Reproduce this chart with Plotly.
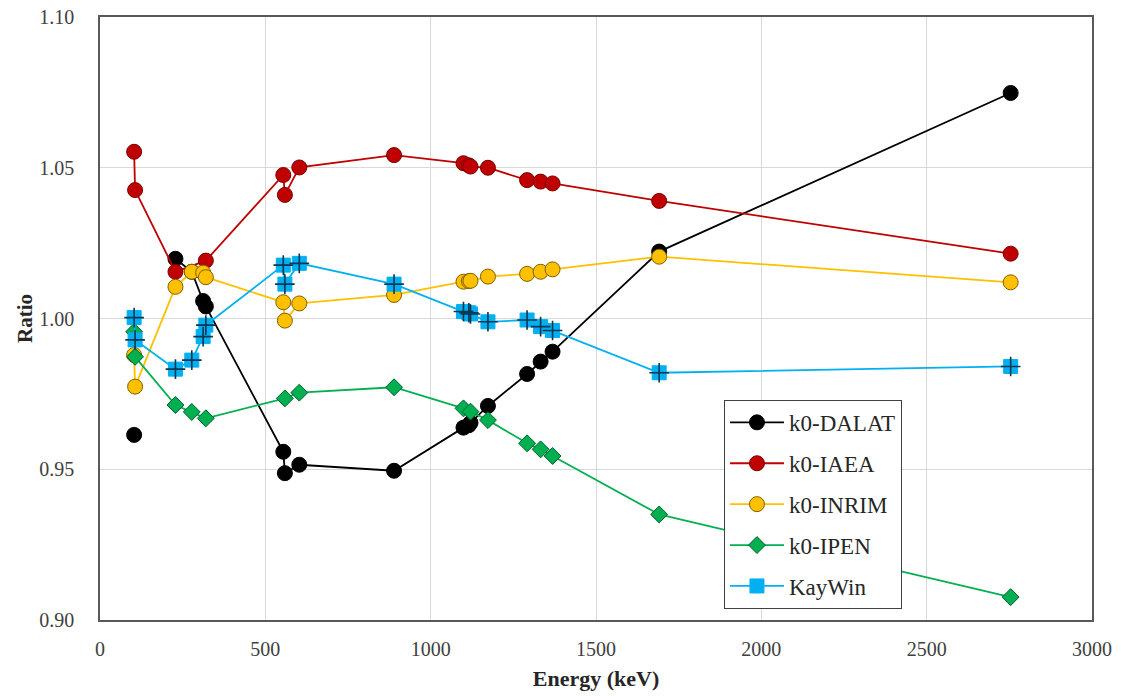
import plotly.graph_objects as go

# Gamma-line energies (keV) and k0 ratios for each library
dalat_keV = [103.2, None, 228.2, 277.6, 311.9, 320.1, 554.3, 559.1, 602.7, 889.3,
             1099.2, 1115.5, 1120.5, 1173.2, 1291.6, 1332.5, 1368.6, 1691.0, 2754.0]
dalat_ratio = [0.9614, None, 1.0198, 1.0155, 1.0058, 1.0040, 0.9558, 0.9487, 0.9515, 0.9495,
               0.9638, 0.9646, 0.9654, 0.9710, 0.9816, 0.9857, 0.9890, 1.0222, 1.0748]

iaea_keV = [103.2, 106.1, 228.2, 320.1, 554.3, 559.1, 602.7, 889.3, 1099.2, 1115.5,
            1120.5, 1173.2, 1291.6, 1332.5, 1368.6, 1691.0, 2754.0]
iaea_ratio = [1.0553, 1.0426, 1.0155, 1.0192, 1.0476, 1.0410, 1.0501, 1.0542, 1.0515, 1.0508,
              1.0504, 1.0500, 1.0459, 1.0454, 1.0448, 1.0390, 1.0215]

inrim_keV = [103.2, 106.1, 228.2, 277.6, 311.9, 320.1, 554.3, 559.1, 602.7, 889.3,
             1099.2, 1115.5, 1120.5, 1173.2, 1291.6, 1332.5, 1368.6, 1691.0, 2754.0]
inrim_ratio = [0.9879, 0.9774, 1.0105, 1.0155, 1.0152, 1.0137, 1.0054, 0.9993, 1.0050, 1.0078,
               1.0122, 1.0124, 1.0125, 1.0139, 1.0148, 1.0155, 1.0163, 1.0205, 1.0120]

ipen_keV = [103.2, 106.1, 228.2, 277.6, 320.1, 559.1, 602.7, 889.3, 1099.2, 1120.5,
            1173.2, 1291.6, 1332.5, 1368.6, 1691.0, 2754.0]
ipen_ratio = [0.9956, 0.9873, 0.9713, 0.9690, 0.9669, 0.9735, 0.9754, 0.9772, 0.9702, 0.9691,
              0.9663, 0.9586, 0.9566, 0.9544, 0.9350, 0.9076]

kaywin_keV = [103.2, 106.1, 228.2, 277.6, 311.9, 320.1, 554.3, 559.1, 602.7, 889.3,
              1099.2, 1115.5, 1120.5, 1173.2, 1291.6, 1332.5, 1368.6, 1691.0, 2754.0]
kaywin_ratio = [1.0003, 0.9929, 0.9832, 0.9862, 0.9940, 0.9978, 1.0177, 1.0114, 1.0183, 1.0114,
                1.0023, 1.0019, 1.0015, 0.9989, 0.9995, 0.9973, 0.9960, 0.9820, 0.9841]

x_ticks = [0, 500, 1000, 1500, 2000, 2500, 3000]
y_ticks = [0.90, 0.95, 1.00, 1.05, 1.10]

SERIF = "Liberation Serif, Times New Roman, serif"

fig = go.Figure()


def add_series(name, xs, ys, color, edge, symbol, size, group):
    fig.add_trace(go.Scatter(
        x=xs, y=ys, name=name, mode="lines+markers", legendgroup=group,
        line=dict(color=color, width=1.8),
        marker=dict(symbol=symbol, size=size, color=color,
                    line=dict(color=edge, width=1)),
        connectgaps=False,
    ))


add_series("k0-DALAT", dalat_keV, dalat_ratio, "#000000", "#000000", "circle", 15, "a")
add_series("k0-IAEA", iaea_keV, iaea_ratio, "#C00000", "#7a0000", "circle", 15, "b")
add_series("k0-INRIM", inrim_keV, inrim_ratio, "#FFC000", "#7f6000", "circle", 15, "c")
add_series("k0-IPEN", ipen_keV, ipen_ratio, "#00B050", "#00602a", "diamond", 13, "d")
add_series("KayWin", kaywin_keV, kaywin_ratio, "#00B0F0", "#00B0F0", "square", 14, "e")
# dark cross drawn over the KayWin squares
fig.add_trace(go.Scatter(
    x=kaywin_keV, y=kaywin_ratio, mode="markers", legendgroup="e", showlegend=False,
    marker=dict(symbol="cross-thin", size=14, line=dict(color="#0b3550", width=1.6)),
    hoverinfo="skip",
))

axis_common = dict(
    showline=True, linecolor="#595959", linewidth=1.5, mirror=True,
    showgrid=True, gridcolor="#d9d9d9", gridwidth=1,
    zeroline=False, ticks="", automargin=False,
    tickfont=dict(family=SERIF, size=20, color="#404040"),
)

fig.update_layout(
    width=1121, height=696,
    margin=dict(l=100, r=29, t=17, b=76),
    paper_bgcolor="white", plot_bgcolor="white",
    xaxis=dict(range=[0, 3000], tickvals=x_ticks, ticktext=[str(v) for v in x_ticks],
               title=dict(text="<b>Energy (keV)</b>", font=dict(family=SERIF, size=22, color="#262626"),
                          standoff=12),
               ticklabelstandoff=10, **axis_common),
    yaxis=dict(range=[0.90, 1.10], tickvals=y_ticks, ticktext=[f"{v:.2f}" for v in y_ticks],
               title=dict(text="<b>Ratio</b>", font=dict(family=SERIF, size=21, color="#262626"),
                          standoff=1),
               ticklabelstandoff=20, **axis_common),
    legend=dict(
        x=0.629, y=0.365, xanchor="left", yanchor="top",
        bgcolor="white", bordercolor="#404040", borderwidth=1,
        font=dict(family=SERIF, size=23, color="#262626"),
        tracegroupgap=8, itemwidth=54, entrywidth=131, entrywidthmode="pixels",
    ),
    showlegend=True,
)

fig.write_html("out.html")
